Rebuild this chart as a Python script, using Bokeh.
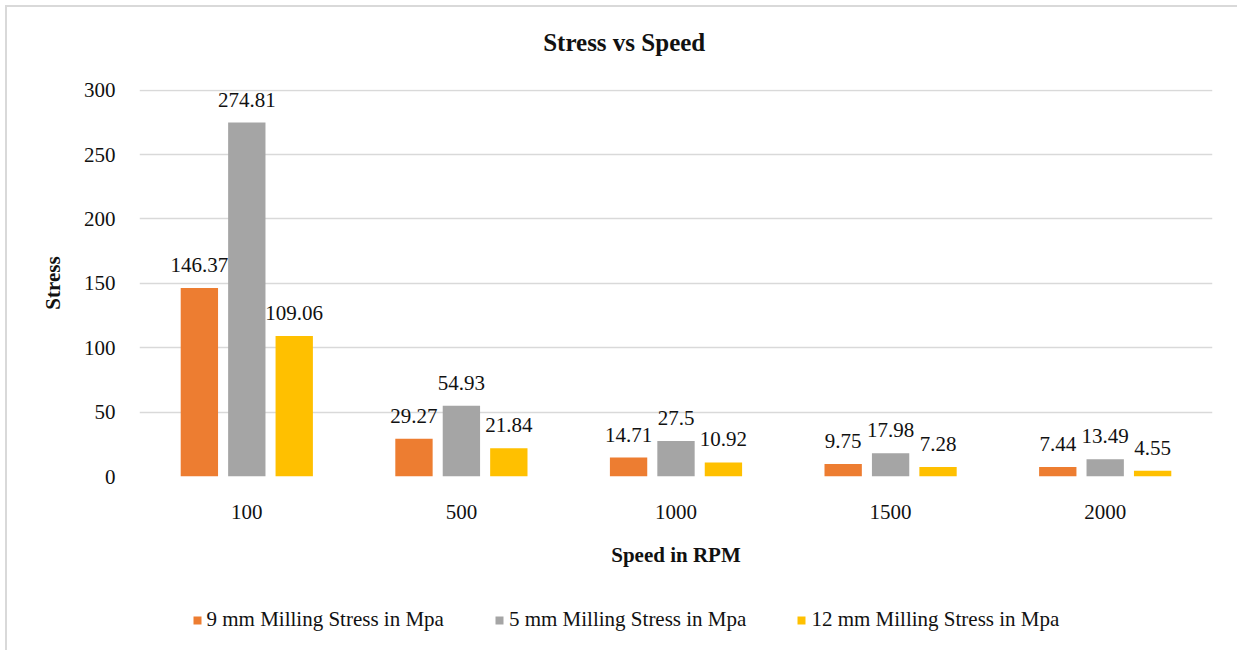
from bokeh.plotting import figure
from bokeh.layouts import column
from bokeh.models import (ColumnDataSource, FactorRange, Range1d, LabelSet, Label,
                          Legend, LegendItem, FixedTicker)
from bokeh.transform import dodge
from bokeh.embed import file_html
from bokeh.resources import INLINE

# Spindle speed categories (RPM)
speeds = ["100", "500", "1000", "1500", "2000"]

# Milling stress (MPa) for each tool diameter
stress_9mm = [146.37, 29.27, 14.71, 9.75, 7.44]
stress_5mm = [274.81, 54.93, 27.5, 17.98, 13.49]
stress_12mm = [109.06, 21.84, 10.92, 7.28, 4.55]

series_names = ["9 mm Milling Stress in Mpa",
                "5 mm Milling Stress in Mpa",
                "12 mm Milling Stress in Mpa"]
series_colors = ["#ED7D31", "#A5A5A5", "#FFC000"]
y_ticks = [0, 50, 100, 150, 200, 250, 300]

FONT = "Liberation Serif"
TEXT_COLOR = "#111111"
GRID_COLOR = "#D9D9D9"
W = 1232
BORDER_L, BORDER_R = 134, 25
FRAME_W = W - BORDER_L - BORDER_R   # column layout aligns every frame to this width

source = ColumnDataSource(dict(
    speed=speeds,
    s9=stress_9mm, s5=stress_5mm, s12=stress_12mm,
    l9=[f"{v:g}" for v in stress_9mm],
    l5=[f"{v:g}" for v in stress_5mm],
    l12=[f"{v:g}" for v in stress_12mm],
))
value_cols = ["s9", "s5", "s12"]
label_cols = ["l9", "l5", "l12"]
offsets = [-0.221, 0.0, 0.221]


def strip(height, x_range, y_range):
    """A bare figure used for the title and legend strips."""
    f = figure(width=W, height=height, x_range=x_range, y_range=y_range,
               x_axis_type=None, y_axis_type=None,
               min_border_left=BORDER_L, min_border_right=BORDER_R,
               min_border_top=0, min_border_bottom=0,
               output_backend="svg", toolbar_location=None)
    f.grid.visible = False
    f.outline_line_color = None
    f.border_fill_color = None
    f.background_fill_color = None
    return f


# ---- title strip (data units = pixels inside the frame) ----
TITLE_H = 65
title_fig = strip(TITLE_H, Range1d(0, FRAME_W), Range1d(0, TITLE_H))
title_fig.add_layout(Label(x=484.7, y=28.3, text="Stress vs Speed",
                           text_align="center", text_baseline="alphabetic",
                           text_font=FONT, text_font_size="25px", text_font_style="bold",
                           text_color=TEXT_COLOR))

# ---- main chart ----
p = figure(
    x_range=FactorRange(factors=speeds, range_padding=0),
    y_range=Range1d(0, 300.5),
    width=W, height=513,
    min_border_left=BORDER_L, min_border_right=BORDER_R,
    min_border_top=19, min_border_bottom=107,
    output_backend="svg", toolbar_location=None,
)
p.border_fill_color = None
p.background_fill_color = None
p.outline_line_color = None

for off, col, lab, color in zip(offsets, value_cols, label_cols, series_colors):
    xs = dodge("speed", off, range=p.x_range)
    p.vbar(x=xs, top=col, width=0.174, source=source,
           fill_color=color, line_color=None)
    p.add_layout(LabelSet(x=xs, y=col, text=lab, source=source,
                          text_align="center", text_baseline="alphabetic",
                          y_offset=16, text_font=FONT, text_font_size="21px",
                          text_color=TEXT_COLOR))

p.yaxis.ticker = FixedTicker(ticks=y_ticks)
for ax in (p.xaxis[0], p.yaxis[0]):
    ax.axis_line_color = None
    ax.major_tick_line_color = None
    ax.minor_tick_line_color = None
    ax.major_label_text_font = FONT
    ax.major_label_text_font_size = "21px"
    ax.major_label_text_color = TEXT_COLOR
    ax.axis_label_text_font = FONT
    ax.axis_label_text_font_size = "21px"
    ax.axis_label_text_font_style = "bold"
    ax.axis_label_text_color = TEXT_COLOR

p.yaxis.axis_label = "Stress"
p.yaxis.major_label_standoff = 18
p.yaxis.axis_label_standoff = 16

p.xaxis.axis_label = "Speed in RPM"
p.xaxis.major_label_standoff = 22
p.xaxis.axis_label_standoff = 21

p.xgrid.grid_line_color = None
p.ygrid.grid_line_color = GRID_COLOR
p.ygrid.grid_line_width = 1.3

# ---- legend strip ----
# Swatch renderers: zero-height bars on the chart data, placed outside this
# strip's y-range, so only their legend entries are drawn.
LEG_H = 67
legend_fig = strip(LEG_H, FactorRange(factors=speeds, range_padding=0),
                   Range1d(1000, 1000 + LEG_H))
swatches = []
for off, col, color in zip(offsets, value_cols, series_colors):
    swatches.append(legend_fig.vbar(x=dodge("speed", off, range=legend_fig.x_range),
                                    top=col, bottom=col, width=0.174, source=source,
                                    fill_color=color, line_color=None))
legend = Legend(
    items=[LegendItem(label=n, renderers=[r]) for n, r in zip(series_names, swatches)],
    location=(52.5, 18),
    orientation="horizontal",
    padding=0, margin=0, spacing=50,
    glyph_width=10, glyph_height=10, label_standoff=5,
    border_line_color=None, background_fill_alpha=0,
    label_text_font=FONT, label_text_font_size="21px",
    label_text_color=TEXT_COLOR,
)
legend_fig.add_layout(legend, "center")

layout = column(title_fig, p, legend_fig, spacing=0, margin=(5, 0, 0, 5),
                styles={"box-shadow": "inset 2px 2px 0 0 #D9D9D9"})

open("out.html", "w").write(file_html(layout, INLINE))
